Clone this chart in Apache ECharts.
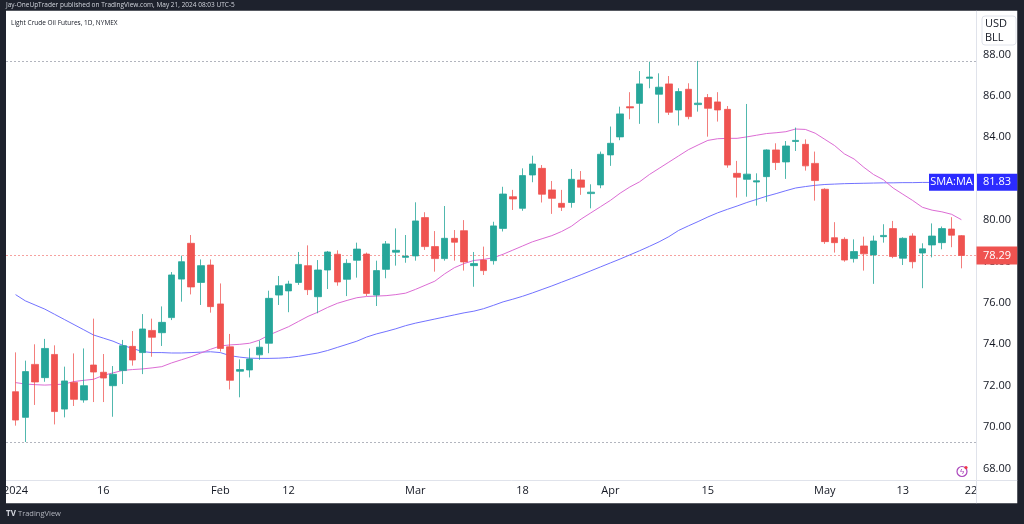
<!DOCTYPE html>
<html><head><meta charset="utf-8">
<script src="https://cdn.jsdelivr.net/npm/echarts@6/dist/echarts.min.js"></script>
<style>html,body{margin:0;padding:0;background:#1e222d;overflow:hidden}#c{width:1024px;height:524px}</style>
</head><body><div id="c"></div>
<script>
const dates = [
'2024-01-02','2024-01-03','2024-01-04','2024-01-05','2024-01-08','2024-01-09','2024-01-10','2024-01-11','2024-01-12','2024-01-16','2024-01-17','2024-01-18','2024-01-19','2024-01-22','2024-01-23','2024-01-24','2024-01-25','2024-01-26','2024-01-29','2024-01-30','2024-01-31',
'2024-02-01','2024-02-02','2024-02-05','2024-02-06','2024-02-07','2024-02-08','2024-02-09','2024-02-12','2024-02-13','2024-02-14','2024-02-15','2024-02-16','2024-02-20','2024-02-21','2024-02-22','2024-02-23','2024-02-26','2024-02-27','2024-02-28','2024-02-29',
'2024-03-01','2024-03-04','2024-03-05','2024-03-06','2024-03-07','2024-03-08','2024-03-11','2024-03-12','2024-03-13','2024-03-14','2024-03-15','2024-03-18','2024-03-19','2024-03-20','2024-03-21','2024-03-22','2024-03-25','2024-03-26','2024-03-27','2024-03-28',
'2024-04-01','2024-04-02','2024-04-03','2024-04-04','2024-04-05','2024-04-08','2024-04-09','2024-04-10','2024-04-11','2024-04-12','2024-04-15','2024-04-16','2024-04-17','2024-04-18','2024-04-19','2024-04-22','2024-04-23','2024-04-24','2024-04-25','2024-04-26','2024-04-29','2024-04-30',
'2024-05-01','2024-05-02','2024-05-03','2024-05-06','2024-05-07','2024-05-08','2024-05-09','2024-05-10','2024-05-13','2024-05-14','2024-05-15','2024-05-16','2024-05-17','2024-05-20','2024-05-21','2024-05-22'];

const opens = [71.71,70.47,73.03,72.39,73.51,70.87,72.16,71.31,73.00,72.65,72.00,72.73,73.90,73.60,74.67,74.56,75.29,77.15,78.88,76.99,77.83,
75.95,73.88,72.70,72.76,73.49,74.05,76.38,76.58,76.99,77.80,76.30,77.59,78.35,77.14,78.06,78.36,76.38,77.62,78.45,78.20,
78.27,80.12,78.72,78.14,79.12,79.49,77.80,78.07,78.04,79.60,81.13,80.57,82.18,82.50,81.46,80.81,80.85,81.94,81.28,81.70,
83.15,84.02,85.48,85.64,86.85,86.08,86.58,85.32,86.32,85.58,85.92,85.71,85.35,82.26,81.97,81.84,82.10,83.39,82.81,83.80,83.66,82.74,
81.49,79.15,79.07,78.14,78.75,78.32,79.20,79.59,78.16,79.23,78.41,78.80,78.91,79.57,79.25];
const highs = [73.61,73.21,74.00,74.26,73.95,72.92,73.56,73.80,75.24,73.53,72.95,74.21,74.64,75.46,75.24,75.83,77.49,78.28,79.28,78.10,78.10,
76.94,74.50,73.27,73.80,74.18,76.59,77.30,77.07,78.46,78.78,78.07,78.51,78.54,78.11,78.91,78.43,78.04,78.99,79.60,79.28,
80.86,80.38,79.47,80.68,79.52,80.00,78.46,78.72,79.92,81.61,81.46,82.50,83.11,82.66,81.89,81.46,82.47,82.37,81.73,83.31,
84.52,85.48,86.18,87.20,87.65,87.09,86.96,86.37,86.61,87.69,86.09,86.18,85.51,82.86,85.61,82.26,83.42,83.71,83.82,84.47,83.90,83.31,
81.54,79.90,79.17,79.07,79.20,79.25,79.80,79.96,79.17,79.36,78.88,79.84,79.69,80.14,79.28];
const lows = [70.07,69.28,71.07,72.19,70.13,70.47,71.02,71.18,71.21,71.21,70.50,72.08,72.97,72.56,73.40,73.92,75.17,76.06,76.41,75.90,75.53,
73.65,71.82,71.44,72.40,73.25,73.57,75.90,75.55,76.87,76.38,75.50,76.67,76.83,76.33,77.22,76.33,75.85,77.19,77.80,77.94,
78.04,78.56,77.51,78.04,78.04,77.56,76.78,77.35,77.85,79.45,80.49,80.45,81.83,80.85,80.30,80.44,80.60,81.22,80.57,81.54,
82.62,83.86,84.87,84.65,86.37,84.68,85.08,84.57,84.87,85.24,84.03,84.76,82.53,81.09,81.13,80.70,80.89,82.42,81.99,83.34,82.39,80.94,
78.85,78.43,77.99,77.95,77.56,76.92,78.91,78.16,77.83,77.67,76.71,78.20,78.59,78.69,77.67];
const closes = [70.34,72.68,72.18,73.80,70.75,72.23,71.34,72.00,72.66,72.37,72.55,73.93,73.24,74.74,74.34,75.06,77.35,77.99,76.77,77.80,75.82,
73.80,72.26,72.78,73.29,73.86,76.22,76.83,76.91,77.86,76.64,77.59,78.46,77.01,77.91,78.60,76.46,77.56,78.85,78.54,78.26,
79.96,78.72,78.14,79.12,78.93,77.98,77.90,77.56,79.72,81.26,81.02,82.15,82.71,81.25,81.05,80.62,81.97,81.59,81.35,83.18,
83.71,85.13,85.42,86.58,86.91,86.42,85.21,86.21,85.00,85.65,85.40,85.32,82.66,82.07,82.22,81.90,83.39,82.78,83.58,83.85,82.62,81.91,
78.96,78.91,78.07,78.48,78.37,78.99,79.26,78.24,79.12,77.99,78.61,79.23,79.59,79.27,78.29];

const smaFast = [72.15,72.08,72.05,72.03,72.05,72.08,72.20,72.26,72.31,72.50,72.62,72.74,72.78,72.81,72.86,72.92,73.10,73.25,73.40,73.58,73.76,
73.92,73.97,74.00,74.05,74.20,74.45,74.65,74.85,75.10,75.35,75.55,75.78,75.98,76.12,76.25,76.31,76.33,76.35,76.40,76.47,
76.65,76.85,77.05,77.40,77.70,77.90,78.05,78.10,78.18,78.35,78.55,78.75,78.95,79.10,79.25,79.45,79.70,80.05,80.35,80.65,
80.95,81.30,81.60,81.85,82.20,82.50,82.80,83.10,83.40,83.63,83.85,83.93,83.95,83.95,84.02,84.10,84.18,84.22,84.27,84.40,84.38,84.20,
83.90,83.60,83.20,82.95,82.55,82.20,81.95,81.55,81.25,80.95,80.62,80.48,80.40,80.28,80.02];
const smaSlow = [76.40,76.10,75.90,75.70,75.45,75.20,74.95,74.70,74.45,74.30,74.15,73.95,73.80,73.65,73.60,73.60,73.58,73.58,73.60,73.62,73.64,
73.60,73.45,73.38,73.33,73.32,73.32,73.33,73.36,73.42,73.50,73.58,73.70,73.85,74.00,74.15,74.35,74.50,74.62,74.75,74.90,
75.02,75.12,75.22,75.32,75.42,75.52,75.60,75.72,75.88,76.05,76.18,76.32,76.48,76.65,76.82,77.00,77.18,77.36,77.55,77.74,
77.93,78.12,78.32,78.52,78.73,78.95,79.20,79.50,79.72,79.93,80.15,80.35,80.52,80.68,80.85,81.00,81.15,81.28,81.42,81.55,81.62,81.68,
81.72,81.74,81.76,81.77,81.78,81.79,81.80,81.80,81.81,81.81,81.82,81.82,81.82,81.83,81.83];

const tickDates = ['2024-01-02','2024-01-16','2024-02-01','2024-02-12','2024-03-01','2024-03-18','2024-04-01','2024-04-15','2024-05-01','2024-05-13','2024-05-22'];
const tickTexts = ['2024','16','Feb','12','Mar','18','Apr','15','May','13','22'];

const UP = '#26a69a', DOWN = '#ef5350', DARK = '#1e222d', TXT = '#131722';
const FONT = '"Open Sans", Roboto, sans-serif';
const tickMap = {}; tickDates.forEach((d, i) => tickMap[d] = tickTexts[i]);
const candles = opens.map((o, i) => [o, closes[i], lows[i], highs[i]]);
const hi = Math.max(...highs), lo = Math.min(...lows), last = closes[closes.length - 1];
const lastSlow = smaSlow[smaSlow.length - 1];

const chart = echarts.init(document.getElementById('c'), null, {renderer: 'canvas'});
chart.setOption({
  animation: false,
  backgroundColor: DARK,
  grid: {left: 5.8, right: 48, top: 54.5, bottom: 55.5, containLabel: false},
  xAxis: {
    type: 'category', data: dates, boundaryGap: true,
    axisLine: {show: false}, axisTick: {show: false}, splitLine: {show: false},
    axisLabel: {interval: (i, v) => tickMap[v] !== undefined, formatter: v => tickMap[v] || '',
      color: TXT, fontSize: 11, fontFamily: FONT, margin: 17}
  },
  yAxis: {
    type: 'value', position: 'right', min: 68, max: 88, interval: 2, scale: false,
    axisLine: {show: false}, axisTick: {show: false}, splitLine: {show: false},
    axisLabel: {formatter: v => v.toFixed(2), color: TXT, fontSize: 11, fontFamily: FONT, margin: 7}
  },
  series: [
    {type: 'line', data: smaSlow, showSymbol: false, symbol: 'none', z: 3,
     lineStyle: {color: '#7272ff', width: 1}},
    {type: 'line', data: smaFast, showSymbol: false, symbol: 'none', z: 3,
     lineStyle: {color: '#dc6cd4', width: 1}},
    {type: 'candlestick', data: candles, barWidth: 7, z: 5,
     itemStyle: {color: UP, color0: DOWN, borderColor: 'rgba(38,166,154,0.8)', borderColor0: 'rgba(239,83,80,0.75)', borderWidth: 1}}
  ]
});

const px = v => chart.convertToPixel({yAxisIndex: 0}, v);
const yLast = px(last), ySlow = px(lastSlow), yHi = Math.round(px(hi)) + 0.5, yLo = Math.round(px(lo)) + 0.5, yL = Math.round(yLast) + 0.5;
const g = [
  {type: 'rect', z: -10, shape: {x: 6, y: 10.5, width: 1011.5, height: 493}, style: {fill: '#ffffff'}},
  {type: 'line', z: 1, shape: {x1: 6, y1: yHi, x2: 976, y2: yHi}, style: {stroke: '#b2b5be', lineWidth: 1, lineDash: [2, 2]}},
  {type: 'line', z: 1, shape: {x1: 6, y1: yLo, x2: 976, y2: yLo}, style: {stroke: '#b2b5be', lineWidth: 1, lineDash: [2, 2]}},
  {type: 'line', z: 1, shape: {x1: 6, y1: yL, x2: 976, y2: yL}, style: {stroke: 'rgba(239,83,80,0.55)', lineWidth: 1, lineDash: [2, 2]}},
  {type: 'line', z: 50, shape: {x1: 976.5, y1: 10.5, x2: 976.5, y2: 503.5}, style: {stroke: '#e0e3eb', lineWidth: 1}},
  {type: 'line', z: 50, shape: {x1: 6, y1: 480.5, x2: 1017.5, y2: 480.5}, style: {stroke: '#e0e3eb', lineWidth: 1}},
  // frame
  {type: 'rect', z: 100, shape: {x: 0, y: 0, width: 6, height: 524}, style: {fill: DARK}},
  {type: 'rect', z: 100, shape: {x: 1017.5, y: 0, width: 7, height: 524}, style: {fill: DARK}},
  {type: 'rect', z: 100, shape: {x: 0, y: 0, width: 1024, height: 10.5}, style: {fill: DARK}},
  {type: 'rect', z: 100, shape: {x: 0, y: 503.5, width: 1024, height: 21}, style: {fill: DARK}},
  {type: 'text', z: 101, x: 6, y: 5.5, style: {text: 'Jay-OneUpTrader published on TradingView.com, May 21, 2024 08:03 UTC-5', fill: '#d1d4dc', font: '6.5px ' + FONT, textVerticalAlign: 'middle'}},
  {type: 'text', z: 101, x: 11, y: 23, style: {text: 'Light Crude Oil Futures, 1D, NYMEX', fill: TXT, font: '6.5px ' + FONT, textVerticalAlign: 'middle'}},
  {type: 'text', z: 101, x: 6, y: 514, style: {text: 'TV', fill: '#d1d4dc', font: 'bold 8px ' + FONT, textVerticalAlign: 'middle'}},
  {type: 'text', z: 101, x: 18, y: 514, style: {text: 'TradingView', fill: '#b2b5be', font: '7.5px ' + FONT, textVerticalAlign: 'middle'}},
  // currency box
  {type: 'rect', z: 60, shape: {x: 982, y: 16, width: 34, height: 29, r: 3}, style: {fill: '#ffffff', stroke: '#e0e3eb', lineWidth: 1}},
  {type: 'text', z: 61, x: 985, y: 24, style: {text: 'USD', fill: TXT, font: '11px ' + FONT, textVerticalAlign: 'middle'}},
  {type: 'text', z: 61, x: 985, y: 37.5, style: {text: 'BLL', fill: TXT, font: '11px ' + FONT, textVerticalAlign: 'middle'}},
  // last price label
  {type: 'rect', z: 60, shape: {x: 976.5, y: yLast - 9, width: 41, height: 18}, style: {fill: DOWN}},
  {type: 'text', z: 61, x: 983, y: yLast, style: {text: last.toFixed(2), fill: '#ffffff', font: '11px ' + FONT, textVerticalAlign: 'middle'}},
  // SMA labels
  {type: 'rect', z: 60, shape: {x: 929, y: ySlow - 8.5, width: 45, height: 17}, style: {fill: '#2b2bff'}},
  {type: 'text', z: 61, x: 951.5, y: ySlow, style: {text: 'SMA:MA', fill: '#ffffff', font: '11px ' + FONT, textAlign: 'center', textVerticalAlign: 'middle'}},
  {type: 'rect', z: 60, shape: {x: 977, y: ySlow - 8.5, width: 40.5, height: 17}, style: {fill: '#2b2bff'}},
  {type: 'text', z: 61, x: 983, y: ySlow, style: {text: lastSlow.toFixed(2), fill: '#ffffff', font: '11px ' + FONT, textVerticalAlign: 'middle'}},
  // small icon
  {type: 'circle', z: 60, shape: {cx: 962, cy: 471.5, r: 5}, style: {fill: 'none', stroke: '#ab47bc', lineWidth: 1.2}},
  {type: 'text', z: 61, x: 962, y: 471.5, style: {text: 'ϟ', fill: '#ab47bc', font: '8px ' + FONT, textAlign: 'center', textVerticalAlign: 'middle'}},
  {type: 'circle', z: 62, shape: {cx: 966, cy: 467.5, r: 1.6}, style: {fill: '#f23645'}}
];
chart.setOption({graphic: {elements: g}});
</script></body></html>
